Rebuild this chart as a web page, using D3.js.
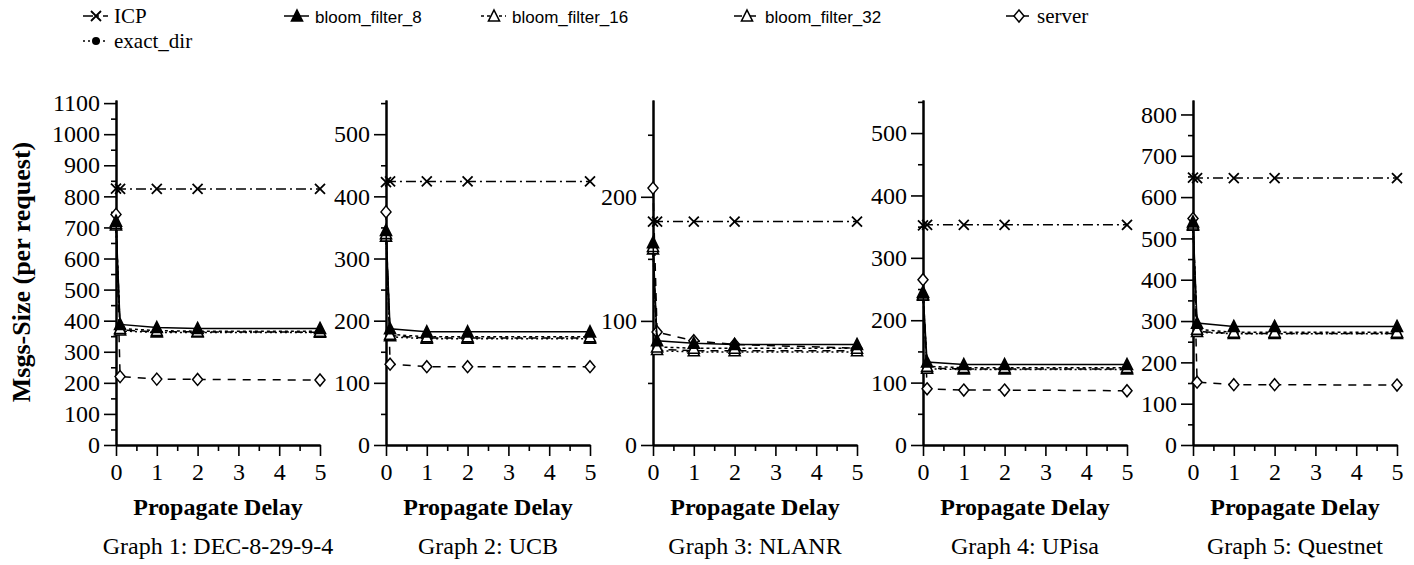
<!DOCTYPE html>
<html>
<head>
<meta charset="utf-8">
<script src="https://cdn.jsdelivr.net/npm/d3@7"></script>
<style>
  body { margin: 0; background: #fff; }
  .axis path { stroke: #000; stroke-width: 2; }
  .axis line { stroke: #000; stroke-width: 1.6; }
</style>
</head>
<body>
<div id="main"></div>
<script>
'use strict';
// - - - - - - - - - -

// data
const delays = [0, 0.1, 1, 2, 5];
const xTicks = [0, 1, 2, 3, 4, 5];
const graphNames = ['Graph 1: DEC-8-29-9-4', 'Graph 2: UCB', 'Graph 3: NLANR', 'Graph 4: UPisa', 'Graph 5: Questnet'];
const yTops = [1110, 555, 278, 553, 835];
const yTicks = [
  [0, 100, 200, 300, 400, 500, 600, 700, 800, 900, 1000, 1100],
  [0, 100, 200, 300, 400, 500],
  [0, 100, 200],
  [0, 100, 200, 300, 400, 500],
  [0, 100, 200, 300, 400, 500, 600, 700, 800]
];

const icp = [
  [825, 824, 824, 824, 824],
  [423, 424, 424, 424, 424],
  [180, 180, 180, 180, 180],
  [352, 353, 353, 353, 353],
  [647, 646, 646, 646, 646]
];
const exactDir = [
  [705, 367, 362, 362, 362],
  [333, 174, 171, 171, 171],
  [157, 76, 75, 75, 75],
  [238, 122, 121, 121, 121],
  [530, 273, 269, 269, 269]
];
const bloom8 = [
  [720, 388, 378, 375, 375],
  [345, 187, 182, 182, 182],
  [163, 84, 82, 81, 81],
  [245, 133, 129, 129, 129],
  [540, 295, 287, 287, 287]
];
const bloom16 = [
  [713, 375, 368, 366, 366],
  [340, 178, 174, 174, 174],
  [160, 79, 78, 78, 78],
  [242, 126, 124, 124, 124],
  [535, 280, 273, 273, 273]
];
const bloom32 = [
  [708, 370, 364, 364, 363],
  [336, 176, 172, 172, 172],
  [158, 77, 76, 76, 76],
  [240, 123, 122, 122, 122],
  [532, 275, 270, 270, 270]
];
const server = [
  [742, 220, 212, 211, 209],
  [375, 130, 126, 126, 126],
  [207, 91, 84, 81, 78],
  [265, 90, 88, 88, 87],
  [548, 152, 146, 146, 145]
];

// configuration
const serif = "'Liberation Serif', 'Times New Roman', serif";
const sans = "'Liberation Sans', Arial, sans-serif";

let
  svg = undefined,
  canvas = {
    context: '#main',
    width: 1414,
    height: 565
  },
  plot = {
    lefts: [116, 386, 653, 923, 1193],
    width: 204,
    top: 100,
    bottom: 445
  };

// series styles (drawing order: back to front)
const series = [
  { name: 'server', values: server, dash: '8,7', marker: 'diamond' },
  { name: 'ICP', values: icp, dash: '10,4,2,4', marker: 'cross' },
  { name: 'exact_dir', values: exactDir, dash: '2,3', marker: 'dot' },
  { name: 'bloom_filter_32', values: bloom32, dash: '8,6', marker: 'openTriangle' },
  { name: 'bloom_filter_16', values: bloom16, dash: '3,3', marker: 'openTriangle' },
  { name: 'bloom_filter_8', values: bloom8, dash: null, marker: 'filledTriangle' }
];

// legend placement
const legendItems = [
  { name: 'ICP', x: 83, y: 16, font: serif, size: 21 },
  { name: 'bloom_filter_8', x: 284, y: 16, font: sans, size: 17 },
  { name: 'bloom_filter_16', x: 481, y: 16, font: sans, size: 17 },
  { name: 'bloom_filter_32', x: 734, y: 16, font: sans, size: 17 },
  { name: 'server', x: 1006, y: 16, font: serif, size: 21 },
  { name: 'exact_dir', x: 83, y: 41, font: serif, size: 21 }
];


// methods
function setCanvas(domContext) {
  svg = d3.select(domContext)
    .append('svg')
    .attr('width', canvas.width)
    .attr('height', canvas.height);
}

function drawMarker(g, type, x, y) {
  let m = g.append('g').attr('transform', 'translate(' + x + ',' + y + ')');
  if (type === 'cross') {
    m.append('path')
      .attr('d', 'M-5,-5L5,5M-5,5L5,-5')
      .attr('stroke', '#000')
      .attr('stroke-width', 1.8)
      .attr('fill', 'none');
  } else if (type === 'diamond') {
    m.append('path')
      .attr('d', 'M0,-6L5,0L0,6L-5,0Z')
      .attr('stroke', '#000')
      .attr('stroke-width', 1.5)
      .attr('fill', '#fff');
  } else if (type === 'dot') {
    m.append('circle')
      .attr('r', 4)
      .attr('fill', '#000');
  } else {
    m.append('path')
      .attr('d', 'M0,-6L5.5,5L-5.5,5Z')
      .attr('stroke', '#000')
      .attr('stroke-width', 1.6)
      .attr('fill', type === 'filledTriangle' ? '#000' : '#fff');
  }
}

function styleAxis(sel) {
  sel.attr('font-family', null).attr('font-size', null);
  sel.selectAll('text')
    .style('font-family', serif)
    .style('font-size', '24px')
    .style('fill', '#000');
}

function drawPanel(i) {
  let
    left = plot.lefts[i],
    xScale = d3.scaleLinear().domain([0, 5]).range([left, left + plot.width]),
    yScale = d3.scaleLinear().domain([0, yTops[i]]).range([plot.bottom, plot.top]),
    g = svg.append('g');

  // minor ticks first, majors over them
  g.append('g')
    .attr('class', 'axis')
    .attr('transform', 'translate(' + left + ',0)')
    .call(d3.axisLeft(yScale)
      .tickValues(d3.range(50, yTops[i], 100))
      .tickSize(5)
      .tickSizeOuter(0)
      .tickFormat(''));

  g.append('g')
    .attr('class', 'axis')
    .attr('transform', 'translate(' + left + ',0)')
    .call(d3.axisLeft(yScale)
      .tickValues(yTicks[i])
      .tickSize(12)
      .tickPadding(4)
      .tickSizeOuter(0)
      .tickFormat(d3.format('d')))
    .call(styleAxis);

  g.append('g')
    .attr('class', 'axis')
    .attr('transform', 'translate(0,' + plot.bottom + ')')
    .call(d3.axisBottom(xScale)
      .tickValues(d3.range(0.5, 5, 1))
      .tickSize(6)
      .tickSizeOuter(0)
      .tickFormat(''));

  g.append('g')
    .attr('class', 'axis')
    .attr('transform', 'translate(0,' + plot.bottom + ')')
    .call(d3.axisBottom(xScale)
      .tickValues(xTicks)
      .tickSize(11)
      .tickPadding(7)
      .tickSizeOuter(0)
      .tickFormat(d3.format('d')))
    .call(styleAxis);

  let line = d3.line()
    .x(function (d) { return xScale(d[0]); })
    .y(function (d) { return yScale(d[1]); });

  series.forEach(function (s) {
    let pts = delays.map(function (x, k) { return [x, s.values[i][k]]; });
    g.append('path')
      .datum(pts)
      .attr('d', line)
      .attr('fill', 'none')
      .attr('stroke', '#000')
      .attr('stroke-width', 1.5)
      .attr('stroke-dasharray', s.dash);
    pts.forEach(function (p) {
      drawMarker(g, s.marker, xScale(p[0]), yScale(p[1]));
    });
  });

  // titles
  g.append('text')
    .attr('x', left + plot.width / 2)
    .attr('y', 515)
    .attr('text-anchor', 'middle')
    .style('font-family', serif)
    .style('font-size', '24px')
    .style('font-weight', 'bold')
    .text('Propagate Delay');

  g.append('text')
    .attr('x', left + plot.width / 2)
    .attr('y', 554)
    .attr('text-anchor', 'middle')
    .style('font-family', serif)
    .style('font-size', '24px')
    .text(graphNames[i]);
}

function drawYLabel() {
  svg.append('text')
    .attr('transform', 'translate(30,272) rotate(-90)')
    .attr('text-anchor', 'middle')
    .style('font-family', serif)
    .style('font-size', '26px')
    .style('font-weight', 'bold')
    .text('Msgs-Size (per request)');
}

function drawLegend() {
  legendItems.forEach(function (item) {
    let
      s = series.find(function (d) { return d.name === item.name; }),
      g = svg.append('g');
    g.append('line')
      .attr('x1', item.x)
      .attr('x2', item.x + 25)
      .attr('y1', item.y)
      .attr('y2', item.y)
      .attr('stroke', '#000')
      .attr('stroke-width', 1.5)
      .attr('stroke-dasharray', s.dash);
    drawMarker(g, s.marker, item.x + 13, item.y);
    g.append('text')
      .attr('x', item.x + 31)
      .attr('y', item.y + 7)
      .style('font-family', item.font)
      .style('font-size', item.size + 'px')
      .text(item.name);
  });
}

// control
setCanvas(canvas.context);
graphNames.forEach(function (d, i) { drawPanel(i); });
drawYLabel();
drawLegend();

// - - - - - - - - - -
</script>
</body>
</html>
